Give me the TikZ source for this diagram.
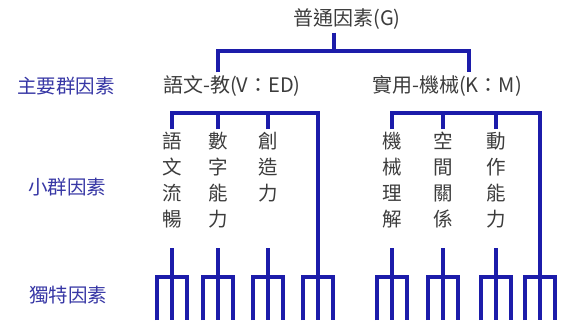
\documentclass[tikz,border=0pt]{standalone}
\usepackage{fontspec}
\setmainfont{Noto Sans CJK TC}
\usetikzlibrary{positioning}

\definecolor{treeblue}{RGB}{28,28,170}
\definecolor{txtgray}{RGB}{60,60,60}
\definecolor{lvlblue}{RGB}{55,55,165}

\tikzset{
  tree/.style={draw=treeblue, line width=3.2pt},
  factor/.style={text=txtgray, font=\fontsize{20}{22}\selectfont, inner sep=3pt},
  level/.style={text=lvlblue, font=\fontsize{19.5}{22}\selectfont, inner sep=1pt},
  column/.style={factor, align=center, font=\fontsize{19.5}{26}\selectfont, anchor=north},
  fork/.pic={\draw[tree] (0,-29) -- (0,0) (-15,43) -- (-15,0) -- (15,0) -- (15,43) (0,0) -- (0,43);}
}

\begin{document}
\begin{tikzpicture}[x=1pt, y=-1pt] % y 向下, 1pt = 1px
  \useasboundingbox (0,0) rectangle (561,326);

  % 左側層級
  \node[level] (lmain) at (66,86) {主要群因素};
  \node[level] (lsmall) at (67,187) {小群因素};
  \node[level] (lunique) at (68,295) {獨特因素};

  % 普通因素與主要群因素
  \node[factor] (g) at (347,19) {普通因素(G)};
  \node[factor] (ved) at (232,86) {語文-教(V：ED)};
  \node[factor] (km) at (447,86) {實用-機械(K：M)};
  \coordinate (gj) at (334,51);
  \coordinate (vj) at (218,51);
  \coordinate (kj) at (469,51);
  \draw[tree] (g.south -| gj) -- (gj);
  \draw[tree] (ved.north -| vj) -- (vj) -- (kj) -- (km.north -| kj);

  % 小群因素
  \node[column] (s1) at (172,129) {語\\文\\流\\暢};
  \node[column] (s2) at (218,129) {數\\字\\能\\力};
  \node[column] (s3) at (268,129) {創\\造\\力};
  \node[column] (s4) at (392,129) {機\\械\\理\\解};
  \node[column] (s5) at (443,129) {空\\間\\關\\係};
  \node[column] (s6) at (496,129) {動\\作\\能\\力};
  \coordinate (vb) at (318,113);
  \coordinate (kb) at (540,113);
  \draw[tree] (s1.north) -- (s1.north |- vb) -- (vb) -- ++(0,137);
  \draw[tree] (s2.north) -- (s2.north |- vb);
  \draw[tree] (s3.north) -- (s3.north |- vb);
  \draw[tree] (s4.north) -- (s4.north |- kb) -- (kb) -- ++(0,137);
  \draw[tree] (s5.north) -- (s5.north |- kb);
  \draw[tree] (s6.north) -- (s6.north |- kb);

  % 獨特因素
  \foreach \x in {172,218,268,318,392,443,496,540}
    \pic at (\x,277) {fork};
\end{tikzpicture}
\end{document}
